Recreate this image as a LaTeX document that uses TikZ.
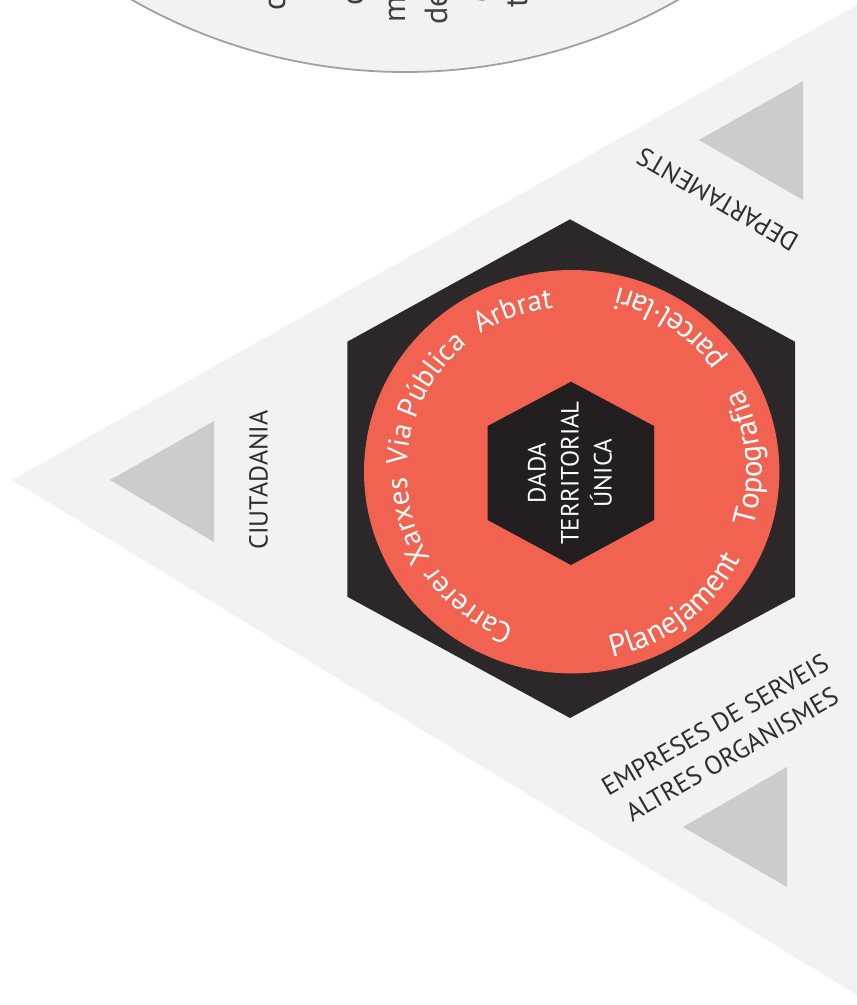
\documentclass[tikz,border=0pt]{standalone}
\usepackage{fontspec}
\setmainfont{PT Sans}
\usetikzlibrary{decorations.text}
\definecolor{bgtri}{HTML}{F2F2F2}
\definecolor{smtri}{HTML}{CCCCCC}
\definecolor{hexdark}{HTML}{2C2829}
\definecolor{ringred}{HTML}{F26251}
\definecolor{hexin}{HTML}{231F20}
\definecolor{labelc}{HTML}{2E2E2E}
\definecolor{circborder}{HTML}{A0A0A0}
\definecolor{fragc}{HTML}{404040}
\newcommand{\ringfntL}{\fontsize{29.5}{29.5}\selectfont}
\newcommand{\ringfntR}{\fontsize{31}{31}\selectfont}
% clockwise arc text, tops outward: #1 mid angle, #2 radius, #3 text
\newcommand{\ringcw}[3]{\path[decorate,decoration={text along path,text align=center,text color=white,text={|\ringfntL|#3}}] ([shift={(#1+45:#2)}]C) arc[start angle=#1+45, end angle=#1-45, radius=#2];}
% counterclockwise arc text, tops inward
\newcommand{\ringccw}[3]{\path[decorate,decoration={text along path,text align=center,text color=white,text={|\ringfntR|#3}}] ([shift={(#1-45:#2)}]C) arc[start angle=#1-45, end angle=#1+45, radius=#2];}
\begin{document}
\begin{tikzpicture}[x=1pt,y=1pt,
  lab/.style={text=labelc,font=\fontsize{26}{34}\selectfont,inner sep=0pt},
  frag/.style={text=fragc,font=\fontsize{32}{32}\selectfont,inner sep=0pt,rotate=90,anchor=base west},
  centre/.style={text=white,font=\fontsize{25}{33}\selectfont,align=center,inner sep=0pt}]
\useasboundingbox (0,0) rectangle (857,-1005);
\clip (0,0) rectangle (857,-1005);
% big background triangle
\fill[bgtri] (12,-480) -- (900,19.2) -- (900,-1021.2) -- cycle;
% top callout circle
\draw[circborder,line width=1.8pt,fill=bgtri] (405,480) circle[radius=552pt];
\node[frag] (f1) at (285,-11) {c};
\node[frag] (f2) at (363,-6) {c};
\node[frag] (f3) at (405,-23) {m};
\node[frag] (f4) at (447,-25) {de};
\node[frag] (f5) at (490,-3) {o};
\node[frag] (f6) at (527,-8) {t};
% small triangles
\fill[smtri] (110,-480) -- (214,-421) -- (214,-542) -- cycle;
\fill[smtri] (699,-140) -- (803,-81) -- (803,-200) -- cycle;
\fill[smtri] (683,-827) -- (787,-767) -- (787,-887) -- cycle;
% outer hexagon
\fill[hexdark] (570,-219.3) -- (795,-341.7) -- (795,-596.7) -- (570,-718) -- (347.3,-596.7) -- (347.3,-341.7) -- cycle;
% red ring
\coordinate (C) at (571.7,-471.7);
\fill[ringred] (C) ellipse[x radius=207.7pt, y radius=201.7pt];
% inner hexagon
\fill[hexin] (571,-381.7) -- (654,-426) -- (654,-520) -- (571,-565) -- (487.7,-520) -- (487.7,-426) -- cycle;
\node[centre,rotate=90] (dada) at (570,-473) {DADA\\TERRITORIAL\\ÚNICA};
% ring words
\ringcw{109.9}{165pt}{Arbrat}
\ringcw{153.5}{165pt}{Via Pública}
\ringcw{196.8}{165pt}{Xarxes}
\ringcw{232.3}{165pt}{Carrerer}
\ringccw{-52.5}{190pt}{Planejament}
\ringccw{4.5}{190pt}{Topografia}
\ringccw{56}{190pt}{parcel·lari}
% labels
\node[lab,rotate=90] (ciut) at (258.5,-480) {CIUTADANIA};
\node[lab,rotate=150] (dept) at (717.5,-199.5) {DEPARTAMENTS};
\node[lab,rotate=30,align=center] (empr) at (723.5,-739.5) {EMPRESES DE SERVEIS\\ALTRES ORGANISMES};
\end{tikzpicture}
\end{document}
